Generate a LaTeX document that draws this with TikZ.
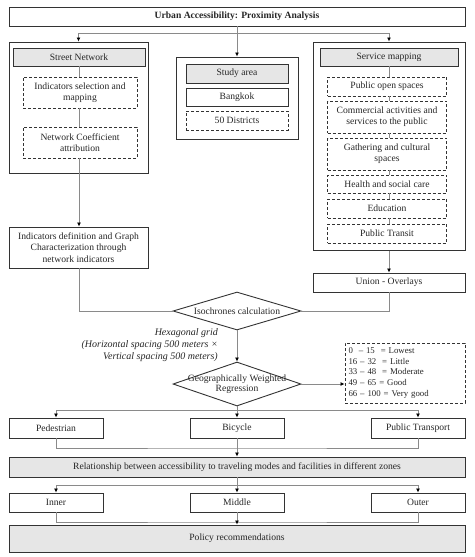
\documentclass[tikz,border=0pt]{standalone}
\usepackage{fontspec}
\setmainfont{Liberation Serif}
\usetikzlibrary{arrows.meta,shapes.geometric}
\definecolor{boxline}{HTML}{333333}
\definecolor{connc}{HTML}{8A8A8A}
\definecolor{hdr}{HTML}{E6E6E6}
\begin{document}
\begin{tikzpicture}[x=1pt,y=-1pt,
 base/.style={draw=boxline, line width=0.9pt, inner sep=1pt, align=center, font=\fontsize{9.6}{11.2}\selectfont, text=black!85},
 box/.style={base},
 hbox/.style={base, fill=hdr},
 dbox/.style={base, dash pattern=on 3pt off 2pt},
 obox/.style={draw=boxline, line width=1pt, inner sep=0pt},
 diam/.style={base, diamond, inner sep=0pt},
 link/.style={draw=connc, line width=0.8pt},
 arr/.style={link, -{Latex[length=4pt,width=4pt,color=black]}},
]
\useasboundingbox (0,0) rectangle (474,557);

% title
\node[box, minimum width=456, minimum height=19, font=\bfseries\fontsize{9.6}{11}\selectfont] (title) at (237,16.5) {Urban Accessibility: Proximity Analysis};

% outer containers
\node[obox, minimum width=139, minimum height=131] (leftouter) at (78.5,107.5) {};
\node[obox, minimum width=122, minimum height=82] (midouter) at (237,98) {};
\node[obox, minimum width=152, minimum height=208] (rightouter) at (389,146) {};

% left column
\node[hbox, minimum width=132, minimum height=18] (street) at (79,57) {Street Network};
\node[dbox, minimum width=114, minimum height=31] (ind1) at (80,92.5) {Indicators selection and\\mapping};
\node[dbox, minimum width=114, minimum height=31] (netcoef) at (80,142.5) {Network Coefficient\\attribution};
\node[box, minimum width=139, minimum height=41] (inddef) at (78.5,247.5) {Indicators definition and Graph\\Characterization through\\network indicators};

% middle column
\node[hbox, minimum width=102, minimum height=19] (study) at (237,73.5) {Study area};
\node[box, minimum width=102, minimum height=18] (bangkok) at (237,97) {Bangkok};
\node[dbox, minimum width=102, minimum height=19] (districts) at (237,120.5) {50 Districts};

% right column
\node[hbox, minimum width=138, minimum height=18] (service) at (389,57) {Service mapping};
\node[dbox, minimum width=119, minimum height=19] (pos) at (387,86.5) {Public open spaces};
\node[dbox, minimum width=119, minimum height=32] (comm) at (387,117) {Commercial activities and\\services to the public};
\node[dbox, minimum width=119, minimum height=32] (gath) at (387,154) {Gathering and cultural\\spaces};
\node[dbox, minimum width=119, minimum height=18] (health) at (387,184) {Health and social care};
\node[dbox, minimum width=119, minimum height=19] (edu) at (387,208.5) {Education};
\node[dbox, minimum width=119, minimum height=19] (ptransit) at (387,233.5) {Public Transit};
\node[box, minimum width=152, minimum height=19] (union) at (389,282.5) {Union - Overlays};

% diamonds
\node[diam, minimum width=128, minimum height=38, aspect=3.37] (iso) at (237,311) {Isochrones calculation};
\node[diam, minimum width=128, minimum height=44, aspect=2.9, font=\fontsize{9.6}{10.5}\selectfont] (gwr) at (237,384) {\makebox[0pt]{Geographically Weighted}\\\makebox[0pt]{Regression}};

\node[anchor=east, align=right, font=\itshape\fontsize{10}{12}\selectfont, text=black!85, inner sep=0pt] (hex) at (218,345) {Hexagonal grid\\(Horizontal spacing 500 meters ×\\Vertical spacing 500 meters)};

\node[dbox, minimum width=120, minimum height=60, text width=113, inner sep=3.5pt, align=left, font=\fontsize{8.8}{10.7}\selectfont] (legend) at (405,373) {0\ \ – 15\ \ = Lowest\\16\ – 32\ \ = Little\\33\ – 48\ \ = Moderate\\49 – 65\ = Good\\66 – 100 = Very good};

% modes
\node[box, minimum width=94, minimum height=20] (ped) at (56,428) {Pedestrian};
\node[box, minimum width=94, minimum height=20] (bike) at (237,428) {Bicycle};
\node[box, minimum width=94, minimum height=20] (ptr) at (418,428) {Public Transport};
\node[hbox, minimum width=456, minimum height=20] (rel) at (237,467) {Relationship between accessibility to traveling modes and facilities in different zones};
\node[box, minimum width=94, minimum height=19] (inner) at (56,502.5) {Inner};
\node[box, minimum width=94, minimum height=19] (middle) at (237,502.5) {Middle};
\node[box, minimum width=94, minimum height=19] (outer) at (418,502.5) {Outer};
\node[hbox, minimum width=456, minimum height=27] (policy) at (237,538.5) {Policy recommendations};

% junction coordinates
\coordinate (j1) at (237,33);
\coordinate (j2) at (237,410);
\coordinate (j3) at (237,448);
\coordinate (j4) at (237,485);
\coordinate (j5) at (237,522);

% connectors
\draw[arr] (title.south) -- (midouter.north);
\draw[arr] (j1) -| (leftouter.north);
\draw[arr] (j1) -| (rightouter.north);
\draw[link] (street.south) -- (street.south |- ind1.north);
\draw[link] (street.south |- ind1.south) -- (street.south |- netcoef.north);
\draw[arr] (street.south |- netcoef.south) -- (street.south |- inddef.north);
\draw[link] (service.south) -- (service.south |- pos.north);
\draw[link] (service.south |- pos.south) -- (service.south |- comm.north);
\draw[link] (service.south |- comm.south) -- (service.south |- gath.north);
\draw[link] (service.south |- gath.south) -- (service.south |- health.north);
\draw[link] (service.south |- health.south) -- (service.south |- edu.north);
\draw[link] (service.south |- edu.south) -- (service.south |- ptransit.north);
\draw[arr] (rightouter.south) -- (union.north);
\draw[link] (street.south |- inddef.south) |- (iso.west);
\draw[link] (union.south) |- (iso.east);
\draw[arr] (iso.south) -- (gwr.north);
\draw[arr] (gwr.east) -- (gwr.east -| legend.west);
\draw[link] (gwr.south) -- (j2);
\draw[arr] (j2) -- (bike.north);
\draw[arr] (j2) -| (ped.north);
\draw[arr] (j2) -| (ptr.north);
\draw[link] (ped.south) |- (j3) -| (ptr.south);
\draw[arr] (bike.south) -- (rel.north);
\draw[link] (rel.south) -- (j4);
\draw[arr] (j4) -- (middle.north);
\draw[arr] (j4) -| (inner.north);
\draw[arr] (j4) -| (outer.north);
\draw[link] (inner.south) |- (j5) -| (outer.south);
\draw[arr] (middle.south) -- (policy.north);
\end{tikzpicture}
\end{document}
